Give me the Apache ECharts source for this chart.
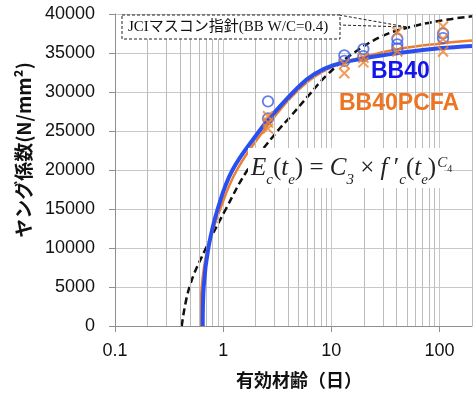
<!DOCTYPE html>
<html>
<head>
<meta charset="utf-8">
<script src="https://cdn.jsdelivr.net/npm/echarts@6/dist/echarts.min.js"></script>
<style>
html, body { margin: 0; padding: 0; background: #fff; }
#chart { width: 475px; height: 394px; }
</style>
</head>
<body>
<div id="chart"></div>
<script>
// Effective age (days) vs. Young's modulus (N/mm2)

// JCI mass-concrete guideline curve (BB, W/C=0.4)
const jciAge = [0.414, 0.488, 0.694, 1.06, 1.68, 3.18, 4.1, 6.3, 9.0, 15, 30, 60, 120, 200];
const jciE   = [0, 5000, 10000, 15000, 20000, 25000, 26700, 29700, 32100, 34700, 37200, 38500, 39300, 39700];

// Fitted curve, BB40
const bbAge = [0.647, 0.661, 0.73, 0.89, 1.22, 2.16, 2.7, 5.1, 7.0, 10.3, 20, 42, 100, 200];
const bbE   = [0, 5000, 10000, 15000, 20000, 25000, 26700, 30800, 32300, 33400, 34300, 35000, 35600, 35900];

// Fitted curve, BB40PCFA
const pcAge = [0.616, 0.634, 0.72, 0.94, 1.34, 2.36, 5.0, 10, 20, 42, 100, 200];
const pcE   = [0, 5000, 10000, 15000, 20000, 25000, 30300, 33200, 34500, 35500, 36200, 36600];

// Measured values, BB40 (circles)
const bbObsAge = [2.6, 2.6, 13.2, 13.2, 19.8, 19.8, 40.8, 40.8, 40.8, 108, 108];
const bbObsE   = [28800, 26600, 34700, 34000, 35500, 34600, 36800, 36100, 35600, 37500, 36900];

// Measured values, BB40PCFA (crosses)
const pcObsAge = [2.6, 2.6, 2.6, 13.2, 13.2, 19.8, 19.8, 40.8, 40.8, 108, 108, 108];
const pcObsE   = [26900, 26100, 25300, 33600, 32400, 34400, 33800, 37700, 35200, 38400, 36800, 35200];

// Axis ticks
const xTicks = [0.1, 1, 10, 100];
const xMinorLines = [0.2, 0.3, 0.4, 0.5, 0.6, 0.7, 0.8, 0.9,
                     2, 3, 4, 5, 6, 7, 8, 9,
                     20, 30, 40, 50, 60, 70, 80, 90, 200];
const yTicks = [0, 5000, 10000, 15000, 20000, 25000, 30000, 35000, 40000];

const pairs = (xs, ys) => xs.map((x, i) => [x, ys[i]]);

const GRID = '#c8c8c8';
const MINOR = '#bcbcbc';
const AXIS = '#8f8f8f';
const BLUE = '#2a4ff0';
const ORANGE = '#ee7d2d';

const chart = echarts.init(document.getElementById('chart'), null, { renderer: 'canvas' });

chart.setOption({
  animation: false,
  backgroundColor: '#fff',
  grid: { left: 115, right: 3, top: 14, bottom: 68, containLabel: false },
  xAxis: {
    type: 'log',
    logBase: 10,
    min: xTicks[0],
    max: 200,
    axisLine: { show: true, lineStyle: { color: AXIS, width: 1 } },
    axisTick: { show: true, length: 6, customValues: xTicks, lineStyle: { color: AXIS } },
    axisLabel: {
      customValues: xTicks,
      margin: 16,
      fontSize: 18,
      fontFamily: 'Liberation Sans, Arial, sans-serif',
      color: '#111',
      formatter: v => (v < 1 ? Number(v).toFixed(1) : String(Math.round(v)))
    },
    splitLine: { show: true, lineStyle: { color: GRID, width: 1 } }
  },
  yAxis: {
    type: 'value',
    min: yTicks[0],
    max: yTicks[yTicks.length - 1],
    interval: 5000,
    axisLine: { show: true, lineStyle: { color: AXIS, width: 1 } },
    axisTick: { show: true, length: 6, lineStyle: { color: AXIS } },
    axisLabel: {
      margin: 20,
      fontSize: 18,
      fontFamily: 'Liberation Sans, Arial, sans-serif',
      color: '#111',
      formatter: v => String(Math.round(v))
    },
    splitLine: { show: true, lineStyle: { color: GRID, width: 1 } }
  },
  series: [
    {
      // minor vertical grid lines of the log axis
      type: 'line',
      data: [],
      z: 1,
      silent: true,
      markLine: {
        silent: true,
        symbol: ['none', 'none'],
        label: { show: false },
        lineStyle: { color: MINOR, type: 'solid', width: 1, opacity: 1 },
        data: xMinorLines.map(v => ({ xAxis: v }))
      }
    },
    {
      name: 'JCI',
      type: 'line',
      data: pairs(jciAge, jciE),
      smooth: 0.4,
      symbol: 'none',
      lineStyle: { color: '#111', width: 2.5, type: [7, 4] },
      z: 3
    },
    {
      name: 'BB40PCFA',
      type: 'line',
      data: pairs(pcAge, pcE),
      smooth: 0.4,
      symbol: 'none',
      lineStyle: { color: ORANGE, width: 2.5 },
      z: 4
    },
    {
      name: 'BB40',
      type: 'line',
      data: pairs(bbAge, bbE),
      smooth: 0.4,
      symbol: 'none',
      lineStyle: { color: BLUE, width: 4 },
      z: 5
    },
    {
      name: 'BB40 measured',
      type: 'scatter',
      data: pairs(bbObsAge, bbObsE),
      symbol: 'circle',
      symbolSize: 10.5,
      itemStyle: { color: 'rgba(0,0,0,0)', borderColor: '#3c5ee6', borderWidth: 1.8 },
      z: 6
    },
    {
      name: 'BB40PCFA measured',
      type: 'scatter',
      data: pairs(pcObsAge, pcObsE),
      symbol: 'path://M0 0L10 10M10 0L0 10',
      symbolSize: 10,
      itemStyle: { color: 'rgba(0,0,0,0)', borderColor: '#f0822e', borderWidth: 2 },
      z: 6
    }
  ],
  graphic: [
    {
      type: 'text', x: 24, y: 150, rotation: Math.PI / 2, z: 50,
      style: {
        text: 'ヤング係数(N/mm²)',
        fontSize: 19, fontWeight: 'bold',
        fontFamily: '"Noto Sans CJK JP", sans-serif',
        fill: '#111', align: 'center', verticalAlign: 'middle'
      }
    },
    {
      type: 'text', x: 299, y: 380, z: 50,
      style: {
        text: '有効材齢（日）',
        fontSize: 18, fontWeight: 'bold',
        fontFamily: '"Noto Sans CJK JP", sans-serif',
        fill: '#111', align: 'center', verticalAlign: 'middle'
      }
    },
    // guideline call-out
    {
      type: 'polyline', z: 49,
      shape: { points: [[339, 15], [407, 27], [339, 25]] },
      style: { stroke: '#222', lineWidth: 1, lineDash: [3, 2], fill: null }
    },
    {
      type: 'rect', z: 50,
      shape: { x: 122, y: 15, width: 218, height: 24 },
      style: { fill: '#fff', stroke: '#222', lineWidth: 1, lineDash: [3, 2] }
    },
    {
      type: 'text', x: 128, y: 27, z: 51,
      style: {
        text: 'JCIマスコン指針(BB W/C=0.4)',
        fontSize: 15,
        fontFamily: '"Liberation Serif", "Noto Sans CJK JP", serif',
        fill: '#111', align: 'left', verticalAlign: 'middle'
      }
    },
    // series captions
    {
      type: 'text', x: 371, y: 72, z: 51,
      style: {
        text: 'BB40', fontSize: 23, fontWeight: 'bold',
        fontFamily: '"Liberation Sans", Arial, sans-serif',
        fill: '#1414ee', align: 'left', verticalAlign: 'middle'
      }
    },
    {
      type: 'text', x: 339, y: 104, z: 51,
      style: {
        text: 'BB40PCFA', fontSize: 23, fontWeight: 'bold',
        fontFamily: '"Liberation Sans", Arial, sans-serif',
        fill: '#ec7422', align: 'left', verticalAlign: 'middle'
      }
    },
    // modulus formula
    {
      type: 'rect', z: 50,
      shape: { x: 248, y: 148, width: 196, height: 40 },
      style: { fill: '#fff' }
    },
    {
      type: 'text', x: 251, y: 148, z: 51,
      style: {
        text: '{m|E}{s|c}{u|(}{m|t}{s|e}{u|) = }{m|C}{s|3}{u| × }{m|f}{u| \u2032}{s|c}{u|(}{m|t}{s|e}{u|)}{p|C}{q|4}',
        align: 'left', verticalAlign: 'top',
        rich: {
          m: { fontSize: 25, fontStyle: 'italic', fontFamily: '"Liberation Serif", serif', fill: '#222', lineHeight: 40, verticalAlign: 'middle' },
          u: { fontSize: 25, fontFamily: '"Liberation Serif", serif', fill: '#222', lineHeight: 40, verticalAlign: 'middle' },
          s: { fontSize: 15, fontStyle: 'italic', fontFamily: '"Liberation Serif", serif', fill: '#222', verticalAlign: 'bottom' },
          p: { fontSize: 15, fontStyle: 'italic', fontFamily: '"Liberation Serif", serif', fill: '#222', verticalAlign: 'top', padding: [8, 0, 0, 1] },
          q: { fontSize: 10, fontFamily: '"Liberation Serif", serif', fill: '#222', verticalAlign: 'top', padding: [16, 0, 0, 0] }
        }
      }
    }
  ]
});
</script>
</body>
</html>
